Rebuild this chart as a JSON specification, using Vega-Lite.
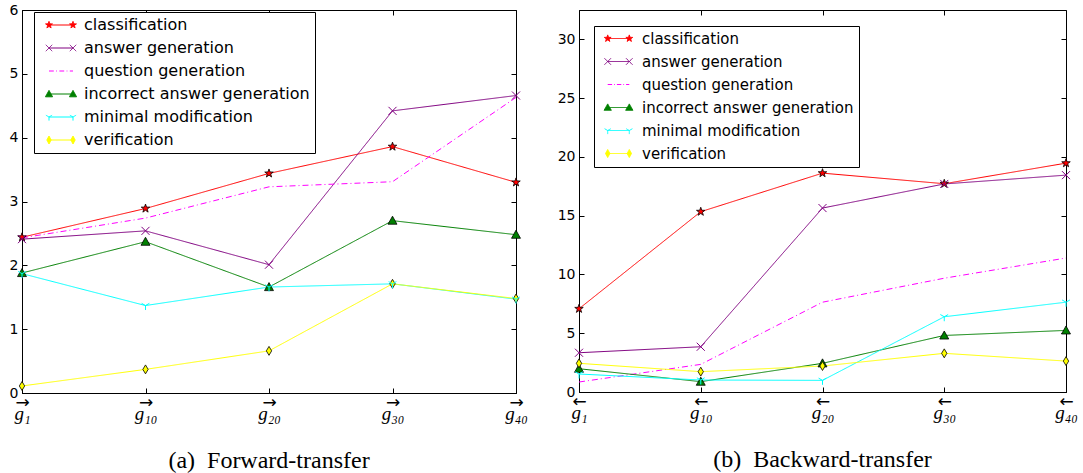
{
  "$schema": "https://vega.github.io/schema/vega-lite/v6.json",
  "background": "white",
  "padding": {"left": 8, "top": 2, "right": 0, "bottom": 0},
  "datasets": {
    "forward": [
      {"series": "classification", "step": "1", "value": 2.44},
      {"series": "classification", "step": "10", "value": 2.89},
      {"series": "classification", "step": "20", "value": 3.44},
      {"series": "classification", "step": "30", "value": 3.86},
      {"series": "classification", "step": "40", "value": 3.30},
      {"series": "answer generation", "step": "1", "value": 2.41},
      {"series": "answer generation", "step": "10", "value": 2.54},
      {"series": "answer generation", "step": "20", "value": 2.01},
      {"series": "answer generation", "step": "30", "value": 4.42},
      {"series": "answer generation", "step": "40", "value": 4.66},
      {"series": "question generation", "step": "1", "value": 2.43},
      {"series": "question generation", "step": "10", "value": 2.74},
      {"series": "question generation", "step": "20", "value": 3.23},
      {"series": "question generation", "step": "30", "value": 3.31},
      {"series": "question generation", "step": "40", "value": 4.63},
      {"series": "incorrect answer generation", "step": "1", "value": 1.88},
      {"series": "incorrect answer generation", "step": "10", "value": 2.37},
      {"series": "incorrect answer generation", "step": "20", "value": 1.66},
      {"series": "incorrect answer generation", "step": "30", "value": 2.70},
      {"series": "incorrect answer generation", "step": "40", "value": 2.48},
      {"series": "minimal modification", "step": "1", "value": 1.87},
      {"series": "minimal modification", "step": "10", "value": 1.37},
      {"series": "minimal modification", "step": "20", "value": 1.66},
      {"series": "minimal modification", "step": "30", "value": 1.71},
      {"series": "minimal modification", "step": "40", "value": 1.47},
      {"series": "verification", "step": "1", "value": 0.11},
      {"series": "verification", "step": "10", "value": 0.37},
      {"series": "verification", "step": "20", "value": 0.66},
      {"series": "verification", "step": "30", "value": 1.71},
      {"series": "verification", "step": "40", "value": 1.48}
    ],
    "backward": [
      {"series": "classification", "step": "1", "value": 7.08},
      {"series": "classification", "step": "10", "value": 15.34},
      {"series": "classification", "step": "20", "value": 18.62},
      {"series": "classification", "step": "30", "value": 17.72},
      {"series": "classification", "step": "40", "value": 19.47},
      {"series": "answer generation", "step": "1", "value": 3.34},
      {"series": "answer generation", "step": "10", "value": 3.85},
      {"series": "answer generation", "step": "20", "value": 15.65},
      {"series": "answer generation", "step": "30", "value": 17.70},
      {"series": "answer generation", "step": "40", "value": 18.45},
      {"series": "question generation", "step": "1", "value": 0.85},
      {"series": "question generation", "step": "10", "value": 2.35},
      {"series": "question generation", "step": "20", "value": 7.64},
      {"series": "question generation", "step": "30", "value": 9.68},
      {"series": "question generation", "step": "40", "value": 11.4},
      {"series": "incorrect answer generation", "step": "1", "value": 1.98},
      {"series": "incorrect answer generation", "step": "10", "value": 0.88},
      {"series": "incorrect answer generation", "step": "20", "value": 2.44},
      {"series": "incorrect answer generation", "step": "30", "value": 4.81},
      {"series": "incorrect answer generation", "step": "40", "value": 5.24},
      {"series": "minimal modification", "step": "1", "value": 1.53},
      {"series": "minimal modification", "step": "10", "value": 1.02},
      {"series": "minimal modification", "step": "20", "value": 0.99},
      {"series": "minimal modification", "step": "30", "value": 6.4},
      {"series": "minimal modification", "step": "40", "value": 7.64},
      {"series": "verification", "step": "1", "value": 2.44},
      {"series": "verification", "step": "10", "value": 1.73},
      {"series": "verification", "step": "20", "value": 2.21},
      {"series": "verification", "step": "30", "value": 3.29},
      {"series": "verification", "step": "40", "value": 2.63}
    ]
  },
  "spacing": 28,
  "hconcat": [
    {
      "width": 494,
      "height": 383,
      "data": {"name": "forward"},
      "title": {"text": "(a)\u00a0 Forward-transfer", "orient": "bottom", "anchor": "middle", "font": "Liberation Serif", "fontSize": 24, "fontWeight": "normal", "color": "black", "offset": 26},
      "layer": [
        {
          "mark": {"type": "line", "strokeWidth": 1},
          "encoding": {
            "x": {"field": "step", "type": "ordinal", "scale": {"type": "point", "padding": 0, "domain": ["1", "10", "20", "30", "40"]},
              "axis": {"orient": "bottom", "title": null, "labelExpr": "'→'", "labelAngle": 0, "labelFont": "DejaVu Sans", "labelFontSize": 17, "labelBaseline": "middle", "labelPadding": 14, "labelDx": -5, "tickSize": -5, "labelFlush": false, "labelOverlap": false}},
            "y": {"field": "value", "type": "quantitative", "scale": {"domain": [0, 6], "nice": false},
              "axis": {"orient": "left", "title": null, "values": [0, 1, 2, 3, 4, 5, 6], "tickSize": -5, "labelPadding": 9, "labelFlush": false, "labelOverlap": false}},
            "color": {"field": "series", "type": "nominal",
              "scale": {"domain": ["classification", "answer generation", "question generation", "incorrect answer generation", "minimal modification", "verification"], "range": ["#ff0000", "#800080", "#ff00ff", "#008000", "#00ffff", "#ffff00"]},
              "legend": {"orient": "none", "legendX": 12, "legendY": 2, "title": null, "labelFont": "DejaVu Sans", "labelFontSize": 16, "labelColor": "black", "symbolSize": 64, "padding": 5, "rowPadding": 7, "symbolOffset": 14, "labelOffset": 15, "strokeColor": "black", "fillColor": "white", "labelLimit": 500,
                "encode": {"symbols": {"update": {
                  "shape": {"signal": "datum.value === 'classification' ? 'M-3,0L3,0M-3,-0.9L-2.788,-0.292L-2.144,-0.278L-2.658,0.112L-2.471,0.728L-3,0.36L-3.529,0.728L-3.342,0.112L-3.856,-0.278L-3.212,-0.292ZM3,-0.9L3.212,-0.292L3.856,-0.278L3.342,0.112L3.529,0.728L3,0.36L2.471,0.728L2.658,0.112L2.144,-0.278L2.788,-0.292Z' : datum.value === 'answer generation' ? 'M-3,0L3,0M-3.8,-0.8L-2.2,0.8M-3.8,0.8L-2.2,-0.8M2.2,-0.8L3.8,0.8M2.2,0.8L3.8,-0.8' : datum.value === 'question generation' ? 'M-3,0L-1.8,0M-1.2,0L-1,0M-0.4,0L0.8,0M1.4,0L1.6,0M2.2,0L3,0' : datum.value === 'incorrect answer generation' ? 'M-3,0L3,0M-3,-0.9L-2.1,0.7L-3.9,0.7ZM3,-0.9L3.9,0.7L2.1,0.7Z' : datum.value === 'minimal modification' ? 'M-3,0L3,0M-3,0L-3,0.9M-3,0L-3.78,-0.45M-3,0L-2.22,-0.45M3,0L3,0.9M3,0L2.22,-0.45M3,0L3.78,-0.45' : 'M-3,0L3,0M-3,-1L-2.45,0L-3,1L-3.55,0ZM3,-1L3.55,0L3,1L2.45,0Z'"},
                  "fill": {"signal": "datum.value === 'classification' ? '#ff0000' : datum.value === 'incorrect answer generation' ? '#008000' : datum.value === 'verification' ? '#ffff00' : 'transparent'"},
                  "stroke": {"signal": "datum.value === 'classification' ? '#ff0000' : datum.value === 'answer generation' ? '#800080' : datum.value === 'question generation' ? '#ff00ff' : datum.value === 'incorrect answer generation' ? '#008000' : datum.value === 'minimal modification' ? '#00ffff' : '#ffff00'"},
                  "strokeWidth": {"value": 1},
                  "opacity": {"value": 1},
                  "size": {"value": 64}
                }}}}},
            "strokeDash": {"field": "series", "type": "nominal",
              "scale": {"domain": ["classification", "answer generation", "question generation", "incorrect answer generation", "minimal modification", "verification"], "range": [[1, 0], [1, 0], [6, 3, 1, 3], [1, 0], [1, 0], [1, 0]]},
              "legend": null}
          }
        },
        {
          "transform": [{"filter": "datum.series === 'classification' || datum.series === 'incorrect answer generation' || datum.series === 'verification'"}],
          "mark": {"type": "point", "filled": true, "size": 80, "stroke": "black", "strokeWidth": 0.8, "opacity": 1},
          "encoding": {
            "x": {"field": "step", "type": "ordinal", "scale": {"type": "point", "padding": 0, "domain": ["1", "10", "20", "30", "40"]},
              "axis": {"orient": "top", "title": null, "labels": false, "domain": false, "tickSize": -5}},
            "y": {"field": "value", "type": "quantitative", "scale": {"domain": [0, 6], "nice": false},
              "axis": {"orient": "right", "title": null, "labels": false, "domain": false, "values": [0, 1, 2, 3, 4, 5, 6], "tickSize": -5}},
            "shape": {"field": "series", "type": "nominal",
              "scale": {"domain": ["classification", "answer generation", "incorrect answer generation", "minimal modification", "verification"],
                "range": ["M0,-1L0.235,-0.324L0.951,-0.309L0.38,0.124L0.588,0.809L0,0.4L-0.588,0.809L-0.38,0.124L-0.951,-0.309L-0.235,-0.324Z", "M-0.9,-0.9L0.9,0.9M-0.9,0.9L0.9,-0.9", "M0,-1L1,0.8L-1,0.8Z", "M0,0L0,1M0,0L-0.87,-0.5M0,0L0.87,-0.5", "M0,-1L0.6,0L0,1L-0.6,0Z"]},
              "legend": null},
            "fill": {"field": "series", "type": "nominal",
              "scale": {"domain": ["classification", "incorrect answer generation", "verification"], "range": ["#ff0000", "#008000", "#ffff00"]},
              "legend": null}
          }
        },
        {
          "transform": [{"filter": "datum.series === 'answer generation' || datum.series === 'minimal modification'"}],
          "mark": {"type": "point", "filled": false, "size": 80, "strokeWidth": 1, "opacity": 1},
          "encoding": {
            "x": {"field": "step", "type": "ordinal", "scale": {"type": "point", "padding": 0, "domain": ["1", "10", "20", "30", "40"]},
              "axis": {"orient": "bottom", "title": null, "offset": 18, "labelExpr": "'g' + replace(replace(replace(replace(replace(datum.value, '0', '₀'), '1', '₁'), '2', '₂'), '3', '₃'), '4', '₄')", "labelAngle": 0, "labelFont": "Liberation Serif", "labelFontStyle": "italic", "labelFontSize": 19, "labelBaseline": "middle", "labelPadding": 2, "ticks": false, "domain": false, "labelFlush": false, "labelOverlap": false}},
            "y": {"field": "value", "type": "quantitative", "scale": {"domain": [0, 6], "nice": false}, "axis": null},
            "shape": {"field": "series", "type": "nominal",
              "scale": {"domain": ["classification", "answer generation", "incorrect answer generation", "minimal modification", "verification"],
                "range": ["M0,-1L0.235,-0.324L0.951,-0.309L0.38,0.124L0.588,0.809L0,0.4L-0.588,0.809L-0.38,0.124L-0.951,-0.309L-0.235,-0.324Z", "M-0.9,-0.9L0.9,0.9M-0.9,0.9L0.9,-0.9", "M0,-1L1,0.8L-1,0.8Z", "M0,0L0,1M0,0L-0.87,-0.5M0,0L0.87,-0.5", "M0,-1L0.6,0L0,1L-0.6,0Z"]},
              "legend": null},
            "stroke": {"field": "series", "type": "nominal",
              "scale": {"domain": ["answer generation", "minimal modification"], "range": ["#800080", "#00ffff"]},
              "legend": null}
          }
        }
      ],
      "resolve": {"axis": {"x": "independent", "y": "independent"}}
    },
    {
      "width": 487,
      "height": 382,
      "data": {"name": "backward"},
      "title": {"text": "(b)\u00a0 Backward-transfer", "orient": "bottom", "anchor": "middle", "font": "Liberation Serif", "fontSize": 24, "fontWeight": "normal", "color": "black", "offset": 26},
      "layer": [
        {
          "mark": {"type": "line", "strokeWidth": 1},
          "encoding": {
            "x": {"field": "step", "type": "ordinal", "scale": {"type": "point", "padding": 0, "domain": ["1", "10", "20", "30", "40"]},
              "axis": {"orient": "bottom", "title": null, "labelExpr": "'←'", "labelAngle": 0, "labelFont": "DejaVu Sans", "labelFontSize": 17, "labelBaseline": "middle", "labelPadding": 14, "labelDx": -5, "tickSize": -5, "labelFlush": false, "labelOverlap": false}},
            "y": {"field": "value", "type": "quantitative", "scale": {"domain": [0, 32.5], "nice": false},
              "axis": {"orient": "left", "title": null, "values": [0, 5, 10, 15, 20, 25, 30], "tickSize": -5, "labelPadding": 9, "labelFlush": false, "labelOverlap": false}},
            "color": {"field": "series", "type": "nominal",
              "scale": {"domain": ["classification", "answer generation", "question generation", "incorrect answer generation", "minimal modification", "verification"], "range": ["#ff0000", "#800080", "#ff00ff", "#008000", "#00ffff", "#ffff00"]},
              "legend": {"orient": "none", "legendX": 15, "legendY": 16, "title": null, "labelFont": "DejaVu Sans", "labelFontSize": 15, "labelColor": "black", "symbolSize": 64, "padding": 5, "rowPadding": 7, "symbolOffset": 12, "labelOffset": 16, "strokeColor": "black", "fillColor": "white", "labelLimit": 500,
                "encode": {"symbols": {"update": {
                  "shape": {"signal": "datum.value === 'classification' ? 'M-2.7,0L2.7,0M-2.7,-0.9L-2.488,-0.292L-1.844,-0.278L-2.358,0.112L-2.171,0.728L-2.7,0.36L-3.229,0.728L-3.042,0.112L-3.556,-0.278L-2.912,-0.292ZM2.7,-0.9L2.912,-0.292L3.556,-0.278L3.042,0.112L3.229,0.728L2.7,0.36L2.171,0.728L2.358,0.112L1.844,-0.278L2.488,-0.292Z' : datum.value === 'answer generation' ? 'M-2.7,0L2.7,0M-3.5,-0.8L-1.9,0.8M-3.5,0.8L-1.9,-0.8M1.9,-0.8L3.5,0.8M1.9,0.8L3.5,-0.8' : datum.value === 'question generation' ? 'M-2.7,0L-1.6,0M-1.1,0L-0.9,0M-0.4,0L0.7,0M1.2,0L1.4,0M1.9,0L2.7,0' : datum.value === 'incorrect answer generation' ? 'M-2.7,0L2.7,0M-2.7,-0.9L-1.8,0.7L-3.6,0.7ZM2.7,-0.9L3.6,0.7L1.8,0.7Z' : datum.value === 'minimal modification' ? 'M-2.7,0L2.7,0M-2.7,0L-2.7,0.9M-2.7,0L-3.48,-0.45M-2.7,0L-1.92,-0.45M2.7,0L2.7,0.9M2.7,0L1.92,-0.45M2.7,0L3.48,-0.45' : 'M-2.7,0L2.7,0M-2.7,-1L-2.15,0L-2.7,1L-3.25,0ZM2.7,-1L3.25,0L2.7,1L2.15,0Z'"},
                  "fill": {"signal": "datum.value === 'classification' ? '#ff0000' : datum.value === 'incorrect answer generation' ? '#008000' : datum.value === 'verification' ? '#ffff00' : 'transparent'"},
                  "stroke": {"signal": "datum.value === 'classification' ? '#ff0000' : datum.value === 'answer generation' ? '#800080' : datum.value === 'question generation' ? '#ff00ff' : datum.value === 'incorrect answer generation' ? '#008000' : datum.value === 'minimal modification' ? '#00ffff' : '#ffff00'"},
                  "strokeWidth": {"value": 1},
                  "opacity": {"value": 1},
                  "size": {"value": 64}
                }}}}},
            "strokeDash": {"field": "series", "type": "nominal",
              "scale": {"domain": ["classification", "answer generation", "question generation", "incorrect answer generation", "minimal modification", "verification"], "range": [[1, 0], [1, 0], [6, 3, 1, 3], [1, 0], [1, 0], [1, 0]]},
              "legend": null}
          }
        },
        {
          "transform": [{"filter": "datum.series === 'classification' || datum.series === 'incorrect answer generation' || datum.series === 'verification'"}],
          "mark": {"type": "point", "filled": true, "size": 80, "stroke": "black", "strokeWidth": 0.8, "opacity": 1},
          "encoding": {
            "x": {"field": "step", "type": "ordinal", "scale": {"type": "point", "padding": 0, "domain": ["1", "10", "20", "30", "40"]},
              "axis": {"orient": "top", "title": null, "labels": false, "domain": false, "tickSize": -5}},
            "y": {"field": "value", "type": "quantitative", "scale": {"domain": [0, 32.5], "nice": false},
              "axis": {"orient": "right", "title": null, "labels": false, "domain": false, "values": [0, 5, 10, 15, 20, 25, 30], "tickSize": -5}},
            "shape": {"field": "series", "type": "nominal",
              "scale": {"domain": ["classification", "answer generation", "incorrect answer generation", "minimal modification", "verification"],
                "range": ["M0,-1L0.235,-0.324L0.951,-0.309L0.38,0.124L0.588,0.809L0,0.4L-0.588,0.809L-0.38,0.124L-0.951,-0.309L-0.235,-0.324Z", "M-0.9,-0.9L0.9,0.9M-0.9,0.9L0.9,-0.9", "M0,-1L1,0.8L-1,0.8Z", "M0,0L0,1M0,0L-0.87,-0.5M0,0L0.87,-0.5", "M0,-1L0.6,0L0,1L-0.6,0Z"]},
              "legend": null},
            "fill": {"field": "series", "type": "nominal",
              "scale": {"domain": ["classification", "incorrect answer generation", "verification"], "range": ["#ff0000", "#008000", "#ffff00"]},
              "legend": null}
          }
        },
        {
          "transform": [{"filter": "datum.series === 'answer generation' || datum.series === 'minimal modification'"}],
          "mark": {"type": "point", "filled": false, "size": 80, "strokeWidth": 1, "opacity": 1},
          "encoding": {
            "x": {"field": "step", "type": "ordinal", "scale": {"type": "point", "padding": 0, "domain": ["1", "10", "20", "30", "40"]},
              "axis": {"orient": "bottom", "title": null, "offset": 18, "labelExpr": "'g' + replace(replace(replace(replace(replace(datum.value, '0', '₀'), '1', '₁'), '2', '₂'), '3', '₃'), '4', '₄')", "labelAngle": 0, "labelFont": "Liberation Serif", "labelFontStyle": "italic", "labelFontSize": 19, "labelBaseline": "middle", "labelPadding": 2, "ticks": false, "domain": false, "labelFlush": false, "labelOverlap": false}},
            "y": {"field": "value", "type": "quantitative", "scale": {"domain": [0, 32.5], "nice": false}, "axis": null},
            "shape": {"field": "series", "type": "nominal",
              "scale": {"domain": ["classification", "answer generation", "incorrect answer generation", "minimal modification", "verification"],
                "range": ["M0,-1L0.235,-0.324L0.951,-0.309L0.38,0.124L0.588,0.809L0,0.4L-0.588,0.809L-0.38,0.124L-0.951,-0.309L-0.235,-0.324Z", "M-0.9,-0.9L0.9,0.9M-0.9,0.9L0.9,-0.9", "M0,-1L1,0.8L-1,0.8Z", "M0,0L0,1M0,0L-0.87,-0.5M0,0L0.87,-0.5", "M0,-1L0.6,0L0,1L-0.6,0Z"]},
              "legend": null},
            "stroke": {"field": "series", "type": "nominal",
              "scale": {"domain": ["answer generation", "minimal modification"], "range": ["#800080", "#00ffff"]},
              "legend": null}
          }
        }
      ],
      "resolve": {"axis": {"x": "independent", "y": "independent"}}
    }
  ],
  "resolve": {"scale": {"color": "independent", "strokeDash": "independent", "shape": "independent", "fill": "independent", "stroke": "independent"}},
  "config": {
    "view": {"stroke": "black", "strokeWidth": 1},
    "axis": {"labelFont": "DejaVu Sans", "labelFontSize": 14, "labelColor": "black", "tickColor": "black", "domainColor": "black", "grid": false, "tickWidth": 1}
  }
}
